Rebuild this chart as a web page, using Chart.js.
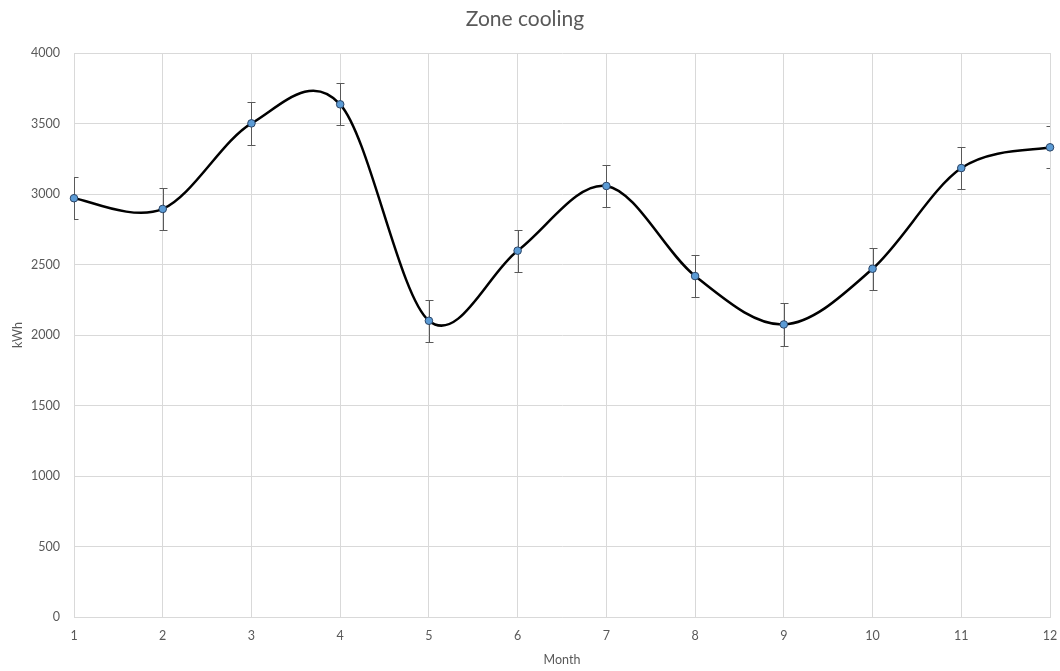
<!DOCTYPE html>
<html>
<head>
<meta charset="utf-8">
<script src="https://cdn.jsdelivr.net/npm/chart.js@4/dist/chart.umd.min.js"></script>
<style>
  html, body { margin: 0; padding: 0; background: #ffffff; }
  #wrap { width: 1060px; height: 671px; }
</style>
</head>
<body>
<div id="wrap"><canvas id="chart" width="1060" height="671"></canvas></div>
<script>
// Monthly zone cooling energy (kWh) with error margins
const months = [1, 2, 3, 4, 5, 6, 7, 8, 9, 10, 11, 12];
const cooling = [2970, 2894, 3501, 3636, 2101, 2598, 3057, 2418, 2075, 2470, 3184, 3331];
const errorMargin = [150, 150, 150, 150, 150, 150, 150, 150, 150, 150, 150, 150];

const FONT = 'Lato, "Open Sans", "Liberation Sans", sans-serif';
const TEXT = '#595959';
const GRID = '#d9d9d9';

// Smooth the line with Catmull-Rom style control points (1/6 of neighbour chord)
const smoothLine = {
  id: 'smoothLine',
  beforeDatasetDraw(chart, args) {
    const meta = args.meta;
    const line = meta.dataset;
    const pts = meta.data;
    if (line && typeof line.updateControlPoints === 'function') {
      line.updateControlPoints(chart.chartArea, 'x');
    }
    for (let i = 0; i < pts.length; i++) {
      const p = pts[i];
      const prev = pts[Math.max(i - 1, 0)];
      const next = pts[Math.min(i + 1, pts.length - 1)];
      const dx = (next.x - prev.x) / 6;
      const dy = (next.y - prev.y) / 6;
      p.cp1x = p.x - dx; p.cp1y = p.y - dy;
      p.cp2x = p.x + dx; p.cp2y = p.y + dy;
    }
    if (line) line._path = undefined;
  }
};

// Vertical error bars with caps, clipped to the plot area
const errorBars = {
  id: 'errorBars',
  beforeDatasetsDraw(chart) {
    const { ctx, chartArea: a, scales: { x, y } } = chart;
    ctx.save();
    ctx.beginPath();
    ctx.rect(a.left, a.top, a.right - a.left, a.bottom - a.top);
    ctx.clip();
    ctx.strokeStyle = '#595959';
    ctx.lineWidth = 1;
    const cap = 4;
    months.forEach((m, i) => {
      const px = Math.round(x.getPixelForValue(m)) + 0.5;
      const top = Math.round(y.getPixelForValue(cooling[i] + errorMargin[i])) + 0.5;
      const bot = Math.round(y.getPixelForValue(cooling[i] - errorMargin[i])) + 0.5;
      ctx.beginPath();
      ctx.moveTo(px, top); ctx.lineTo(px, bot);
      ctx.moveTo(px - cap, top); ctx.lineTo(px + cap, top);
      ctx.moveTo(px - cap, bot); ctx.lineTo(px + cap, bot);
      ctx.stroke();
    });
    ctx.restore();
  }
};

new Chart(document.getElementById('chart'), {
  type: 'line',
  data: {
    datasets: [{
      label: 'Zone cooling',
      data: months.map((m, i) => ({ x: m, y: cooling[i] })),
      borderColor: '#000000',
      borderWidth: 2.5,
      tension: 0.4,
      fill: false,
      clip: false,
      pointRadius: 3.8,
      pointBorderWidth: 1,
      pointBackgroundColor: '#5b9bd5',
      pointBorderColor: '#2a4466'
    }]
  },
  options: {
    responsive: false,
    animation: false,
    events: [],
    layout: { padding: { left: 0, right: 10, top: 0, bottom: 0 } },
    plugins: {
      legend: { display: false },
      tooltip: { enabled: false },
      title: {
        display: true,
        text: 'Zone cooling',
        color: TEXT,
        font: { family: FONT, size: 21, weight: 'normal' },
        padding: { top: 7, bottom: 20.8 }
      }
    },
    scales: {
      x: {
        type: 'linear',
        min: 1,
        max: 12,
        afterFit: s => { s.height = 54; s.paddingLeft = 0; s.paddingRight = 0; },
        ticks: {
          stepSize: 1,
          color: TEXT,
          padding: 11,
          maxRotation: 0,
          font: { family: FONT, size: 12.5 }
        },
        grid: { color: GRID, lineWidth: 1, drawTicks: false },
        border: { display: true, color: GRID },
        title: {
          display: true,
          text: 'Month',
          color: TEXT,
          font: { family: FONT, size: 12.5 },
          padding: { top: 0, bottom: 4 }
        }
      },
      y: {
        type: 'linear',
        min: 0,
        max: 4000,
        afterFit: s => { s.width = 74; },
        ticks: {
          stepSize: 500,
          color: TEXT,
          padding: 14,
          font: { family: FONT, size: 12.5 },
          callback: v => String(v)
        },
        grid: { color: GRID, lineWidth: 1, drawTicks: false },
        border: { display: true, color: GRID },
        title: {
          display: true,
          text: 'kWh',
          color: TEXT,
          font: { family: FONT, size: 12.5 },
          padding: { top: 10, bottom: 0 }
        }
      }
    }
  },
  plugins: [errorBars, smoothLine]
});
</script>
</body>
</html>
